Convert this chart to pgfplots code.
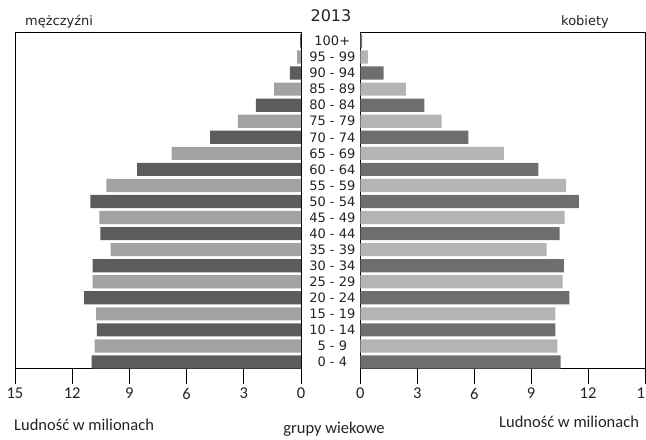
\documentclass[border=0pt]{standalone}
\usepackage{pgfplots}
\pgfplotsset{compat=1.18}
\usepackage{fontspec}
\setmainfont{DejaVu Sans}
\newfontfamily\dvs{DejaVu Sans}
\newfontfamily\carl{Carlito}
\definecolor{ldark}{RGB}{92,92,92}
\definecolor{llight}{RGB}{162,162,162}
\definecolor{rdark}{RGB}{110,110,110}
\definecolor{rlight}{RGB}{180,180,180}
\definecolor{txt}{RGB}{35,35,35}
\newcommand{\ag}[1]{\mbox{\dvs #1}}
\pgfplotstableread{
age men women
0 10.98 10.55
1 10.82 10.38
2 10.70 10.28
3 10.75 10.28
4 11.38 11.01
5 10.93 10.66
6 10.93 10.73
7 9.98 9.82
8 10.52 10.50
9 10.58 10.76
10 11.05 11.52
11 10.21 10.85
12 8.59 9.38
13 6.79 7.57
14 4.76 5.70
15 3.31 4.28
16 2.37 3.37
17 1.41 2.40
18 0.58 1.23
19 0.20 0.40
20 0.05 0.10
}\pyramid
\pgfplotsset{
  pyr/.style={
    scale only axis,
    xbar, bar shift=0pt, bar width=0.82,
    ymin=-0.405, ymax=20.56,
    xmin=0, xmax=15,
    xtick={0,3,...,15},
    xtick pos=bottom,
    tick align=outside,
    major tick length=16bp,
    every tick/.style={black, line width=0.8pt},
    axis line style={black, line width=0.8pt},
    xticklabel style={font=\carl\fontsize{16.5bp}{18bp}\selectfont, text=txt},
    /pgf/number format/assume math mode=true,
    height=336.5bp,
  },
}
\begin{document}
\begin{tikzpicture}[x=1bp,y=1bp]
\useasboundingbox (0,0) rectangle (646,440);
\begin{axis}[pyr, at={(15bp,71.5bp)}, anchor=south west, width=286bp,
  x dir=reverse, ytick=\empty]
\addplot[fill=ldark, draw=none] table[x=men, y=age, restrict expr to domain={mod(\thisrow{age},2)}{0:0}] {\pyramid};
\addplot[fill=llight, draw=none] table[x=men, y=age, restrict expr to domain={mod(\thisrow{age},2)}{1:1}] {\pyramid};
\end{axis}
\begin{axis}[pyr, at={(360.3bp,71.5bp)}, anchor=south west, width=284.7bp,
  ytick={0,...,20},
  yticklabels={\ag{0 - 4},\ag{5 - 9},\ag{10 - 14},\ag{15 - 19},\ag{20 - 24},\ag{25 - 29},\ag{30 - 34},\ag{35 - 39},\ag{40 - 44},\ag{45 - 49},\ag{50 - 54},\ag{55 - 59},\ag{60 - 64},\ag{65 - 69},\ag{70 - 74},\ag{75 - 79},\ag{80 - 84},\ag{85 - 89},\ag{90 - 94},\ag{95 - 99},\ag{100+}},
  ytick pos=left, ytick style={draw=none},
  yticklabel style={anchor=center, font=\dvs\fontsize{13bp}{14bp}\selectfont, text=txt, xshift=-12bp, inner sep=0pt}]
\addplot[fill=rdark, draw=none] table[x=women, y=age, restrict expr to domain={mod(\thisrow{age},2)}{0:0}] {\pyramid};
\addplot[fill=rlight, draw=none] table[x=women, y=age, restrict expr to domain={mod(\thisrow{age},2)}{1:1}] {\pyramid};
\end{axis}
\node[anchor=base, font=\dvs\fontsize{16bp}{18bp}\selectfont, text=txt] at (331,440-22) {2013};
\node[anchor=base west, font=\dvs\fontsize{13bp}{15bp}\selectfont, text=txt, inner sep=0pt] at (25,440-26) {mężczyźni};
\node[anchor=base west, font=\dvs\fontsize{13bp}{15bp}\selectfont, text=txt, inner sep=0pt] at (561,440-26) {kobiety};
\node[anchor=base west, font=\carl\fontsize{16.5bp}{18bp}\selectfont, text=txt, inner sep=0pt] at (14,440-431) {Ludność w milionach};
\node[anchor=base, font=\carl\fontsize{16.5bp}{18bp}\selectfont, text=txt, inner sep=0pt] at (334,440-434) {grupy wiekowe};
\node[anchor=base west, font=\carl\fontsize{16.5bp}{18bp}\selectfont, text=txt, inner sep=0pt] at (499,440-428) {Ludność w milionach};
\end{tikzpicture}
\end{document}
